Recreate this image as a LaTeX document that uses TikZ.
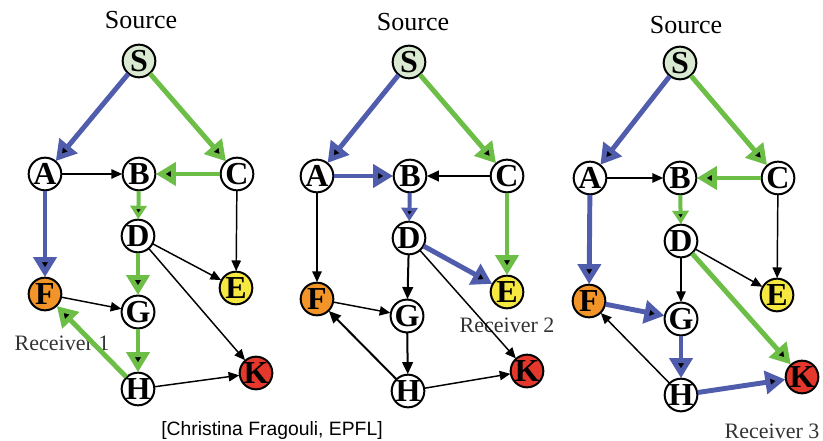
\documentclass[tikz,border=0pt]{standalone}
\usepackage{fontspec}
\setmainfont{Liberation Serif}
\newfontfamily\capfont{Liberation Sans}
\usetikzlibrary{arrows.meta,positioning}
\definecolor{pathblue}{RGB}{80,92,172}
\definecolor{pathgreen}{RGB}{108,190,70}
\definecolor{srcfill}{RGB}{218,233,210}
\definecolor{ffill}{RGB}{242,148,40}
\definecolor{efill}{RGB}{246,232,64}
\definecolor{kfill}{RGB}{228,56,44}

\begin{document}
\begin{tikzpicture}[x=0.75pt,y=-0.75pt]
\tikzstyle{vertex}=[circle,line width=1.5pt,draw=black,fill=white,
inner sep=0pt,outer sep=0.4pt,minimum size=24.5pt,
font=\fontsize{24}{24}\selectfont\bfseries]
\tikzstyle{title}=[font=\fontsize{19.5}{20}\selectfont]
\tikzstyle{recv}=[font=\fontsize{16.5}{18}\selectfont,text=black!80]
\tikzstyle{plain}=[line width=1.1pt,-{Triangle[length=8pt,width=7pt]}]
\tikzstyle{heavy}=[line width=1.5pt,-{Triangle[length=9pt,width=8pt]}]
\tikzstyle{bluepath}=[line width=3.7pt,draw=pathblue,
-{Triangle[length=15pt,width=17pt]}]
\tikzstyle{greenpath}=[line width=3.7pt,draw=pathgreen,
-{Triangle[length=15pt,width=17pt]}]
\tikzstyle{short}=[line width=3pt,-{Triangle[length=10pt,width=12pt]}]
\useasboundingbox (0,0) rectangle (823,441);

% receiver 1
\node[title] (src1) at (141,20) {Source};
\node[vertex,fill=srcfill] (S1) at (139,61) {S};
\node[vertex] (A1) at (45,174) {A};
\node[vertex] (B1) at (139,174) {B};
\node[vertex] (C1) at (237,174) {C};
\node[vertex] (D1) at (138,236) {D};
\node[vertex,fill=efill] (E1) at (236,288) {E};
\node[vertex,fill=ffill] (F1) at (45,294) {F};
\node[vertex] (G1) at (138,312) {G};
\node[vertex] (H1) at (138,389) {H};
\node[vertex,fill=kfill] (K1) at (256,373) {K};
\node[recv] (rec1) at (62,343) {Receiver 1};

\path[bluepath] (S1) edge (A1) ;
\path[greenpath] (S1) edge (C1) ;
\path[plain] (A1) edge (B1) ;
\path[greenpath] (C1) edge (B1) ;
\path[short,draw=pathgreen] (B1) edge (D1) ;
\path[plain] (C1) edge (E1) ;
\path[bluepath] (A1) edge (F1) ;
\path[plain] (D1) edge (E1) ;
\path[greenpath] (D1) edge (G1) ;
\path[plain] (D1) edge (K1) ;
\path[plain] (F1) edge (G1) ;
\path[greenpath] (G1) edge (H1) ;
\path[greenpath] (H1) edge (F1) ;
\path[plain] (H1) edge (K1) ;

% receiver 2
\node[title] (src2) at (413,22) {Source};
\node[vertex,fill=srcfill] (S2) at (409,62) {S};
\node[vertex] (A2) at (317,176) {A};
\node[vertex] (B2) at (410,176) {B};
\node[vertex] (C2) at (507,176) {C};
\node[vertex] (D2) at (409,238) {D};
\node[vertex,fill=efill] (E2) at (507,292) {E};
\node[vertex,fill=ffill] (F2) at (317,299) {F};
\node[vertex] (G2) at (407,316) {G};
\node[vertex] (H2) at (408,391) {H};
\node[vertex,fill=kfill] (K2) at (527,371) {K};
\node[recv] (rec2) at (507,325) {Receiver 2};

\path[bluepath] (S2) edge (A2) ;
\path[greenpath] (S2) edge (C2) ;
\path[bluepath] (A2) edge (B2) ;
\path[heavy] (C2) edge (B2) ;
\path[short,draw=pathblue] (B2) edge (D2) ;
\path[greenpath] (C2) edge (E2) ;
\path[plain] (A2) edge (F2) ;
\path[bluepath] (D2) edge (E2) ;
\path[heavy] (D2) edge (G2) ;
\path[plain] (D2) edge (K2) ;
\path[plain] (F2) edge (G2) ;
\path[heavy] (G2) edge (H2) ;
\path[heavy] (H2) edge (F2) ;
\path[plain] (H2) edge (K2) ;

% receiver 3
\node[title] (src3) at (686,25) {Source};
\node[vertex,fill=srcfill] (S3) at (680,63) {S};
\node[vertex] (A3) at (590,178) {A};
\node[vertex] (B3) at (680,178) {B};
\node[vertex] (C3) at (778,178) {C};
\node[vertex] (D3) at (681,241) {D};
\node[vertex,fill=efill] (E3) at (777,295) {E};
\node[vertex,fill=ffill] (F3) at (589,301) {F};
\node[vertex] (G3) at (681,319) {G};
\node[vertex] (H3) at (681,395) {H};
\node[vertex,fill=kfill] (K3) at (802,377) {K};
\node[recv] (rec3) at (772,431) {Receiver 3};

\path[bluepath] (S3) edge (A3) ;
\path[greenpath] (S3) edge (C3) ;
\path[plain] (A3) edge (B3) ;
\path[greenpath] (C3) edge (B3) ;
\path[short,draw=pathgreen] (B3) edge (D3) ;
\path[plain] (C3) edge (E3) ;
\path[bluepath] (A3) edge (F3) ;
\path[plain] (D3) edge (E3) ;
\path[plain] (D3) edge (G3) ;
\path[greenpath] (D3) edge (K3) ;
\path[bluepath] (F3) edge (G3) ;
\path[bluepath] (G3) edge (H3) ;
\path[plain] (H3) edge (F3) ;
\path[bluepath] (H3) edge (K3) ;

\node[font=\capfont\fontsize{14.5}{16}\selectfont] (credit) at (272,430)
{[Christina Fragouli, EPFL]};
\end{tikzpicture}
\end{document}
